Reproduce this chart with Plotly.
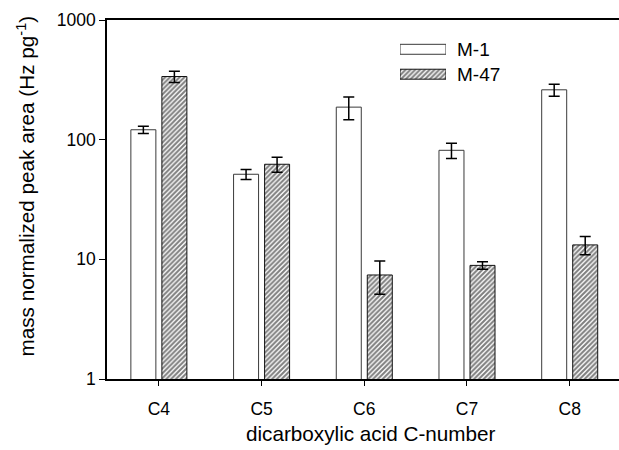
import plotly.graph_objects as go

# ---- data ----
categories = ["C4", "C5", "C6", "C7", "C8"]
series_names = ["M-1", "M-47"]
m1_values = [121, 51.4, 187, 81.5, 261]
m1_errors = [8.5, 5, 40, 12, 30]
m47_values = [337, 62.3, 7.4, 8.9, 13.2]
m47_errors = [36, 9, 2.3, 0.65, 2.3]
y_tickvals = [1, 10, 100, 1000]
y_ticktext = ["1", "10", "100", "1000"]

FONT = "Arial, Liberation Sans, sans-serif"

W, H = 619, 450
ML, MR, MT, MB = 107, 0, 20, 71
PW, PH = W - ML - MR, H - MT - MB

def px_to_paper_x(px):
    return (px - ML) / PW

def px_to_paper_y(py):
    return (H - MB - py) / PH

m1_marker = dict(color="white", line=dict(color="#3a3a3a", width=1))
m47_marker = dict(color="white", line=dict(color="#111111", width=1),
                  pattern=dict(shape="/", size=3.4, solidity=0.6, fgcolor="black", bgcolor="white"))
err_style = dict(type="data", visible=True, color="black", thickness=1.5, width=5.5)

fig = go.Figure()
fig.add_trace(go.Bar(x=categories, y=m1_values, name=series_names[0], marker=m1_marker,
                     error_y=dict(array=m1_errors, **err_style), showlegend=False))
fig.add_trace(go.Bar(x=categories, y=m47_values, name=series_names[1], marker=m47_marker,
                     error_y=dict(array=m47_errors, **err_style), showlegend=False))

# legend swatches drawn as small bars in an inset axis
fig.add_trace(go.Bar(x=[1], y=[1], base=0, orientation="h", width=0.4, offset=-0.2,
                     marker=m1_marker, xaxis="x2", yaxis="y2", showlegend=False, hoverinfo="skip"))
fig.add_trace(go.Bar(x=[1], y=[0], base=0, orientation="h", width=0.4, offset=-0.2,
                     marker=m47_marker, xaxis="x2", yaxis="y2", showlegend=False, hoverinfo="skip"))

axis_font = dict(family=FONT, size=17.5, color="black")

fig.update_layout(
    width=W, height=H,
    margin=dict(l=ML, r=MR, t=MT, b=MB, pad=0),
    paper_bgcolor="white", plot_bgcolor="white",
    barmode="group", bargap=0.396, bargroupgap=0.194,
    font=dict(family=FONT, size=17.5, color="black"),
    xaxis=dict(type="category", range=[-0.505, 4.48], showline=True, linecolor="black",
               linewidth=1.5, mirror=True, ticks="outside", ticklen=5, tickwidth=1.2,
               tickcolor="black", showgrid=False, zeroline=False, tickfont=axis_font,
               ticklabelstandoff=8),
    yaxis=dict(type="log", range=[0, 3], tickvals=y_tickvals, ticktext=y_ticktext,
               ticksuffix="\u2009\u2009",
               showline=True, linecolor="black", linewidth=1.5, ticks="outside", ticklen=6,
               tickwidth=1.2, tickcolor="black", showgrid=False, zeroline=False,
               tickfont=axis_font),
    xaxis2=dict(domain=[px_to_paper_x(400), px_to_paper_x(446)], range=[0, 1],
                anchor="y2", visible=False, fixedrange=True),
    yaxis2=dict(domain=[px_to_paper_y(86.65), px_to_paper_y(36.85)], range=[-0.5, 1.5],
                anchor="x2", visible=False, fixedrange=True),
    annotations=[
        dict(text="mass normalized peak area (Hz pg<sup>-1</sup>)", textangle=-90,
             x=px_to_paper_x(25), y=px_to_paper_y(186.5), xref="paper", yref="paper",
             xanchor="center", yanchor="middle", showarrow=False,
             font=dict(family=FONT, size=20.7, color="black")),
        dict(text="dicarboxylic acid C-number",
             x=px_to_paper_x(371), y=px_to_paper_y(434), xref="paper", yref="paper",
             xanchor="center", yanchor="middle", showarrow=False,
             font=dict(family=FONT, size=20.7, color="black")),
        dict(text=series_names[0], x=px_to_paper_x(455), y=px_to_paper_y(49.3),
             xref="paper", yref="paper", xanchor="left", yanchor="middle", showarrow=False,
             font=dict(family=FONT, size=19, color="black")),
        dict(text=series_names[1], x=px_to_paper_x(455), y=px_to_paper_y(74.2),
             xref="paper", yref="paper", xanchor="left", yanchor="middle", showarrow=False,
             font=dict(family=FONT, size=19, color="black")),
    ],
)

fig.write_html("out.html", config={"displayModeBar": False},
               post_script="document.body.style.margin='0';document.body.style.overflow='hidden';")
